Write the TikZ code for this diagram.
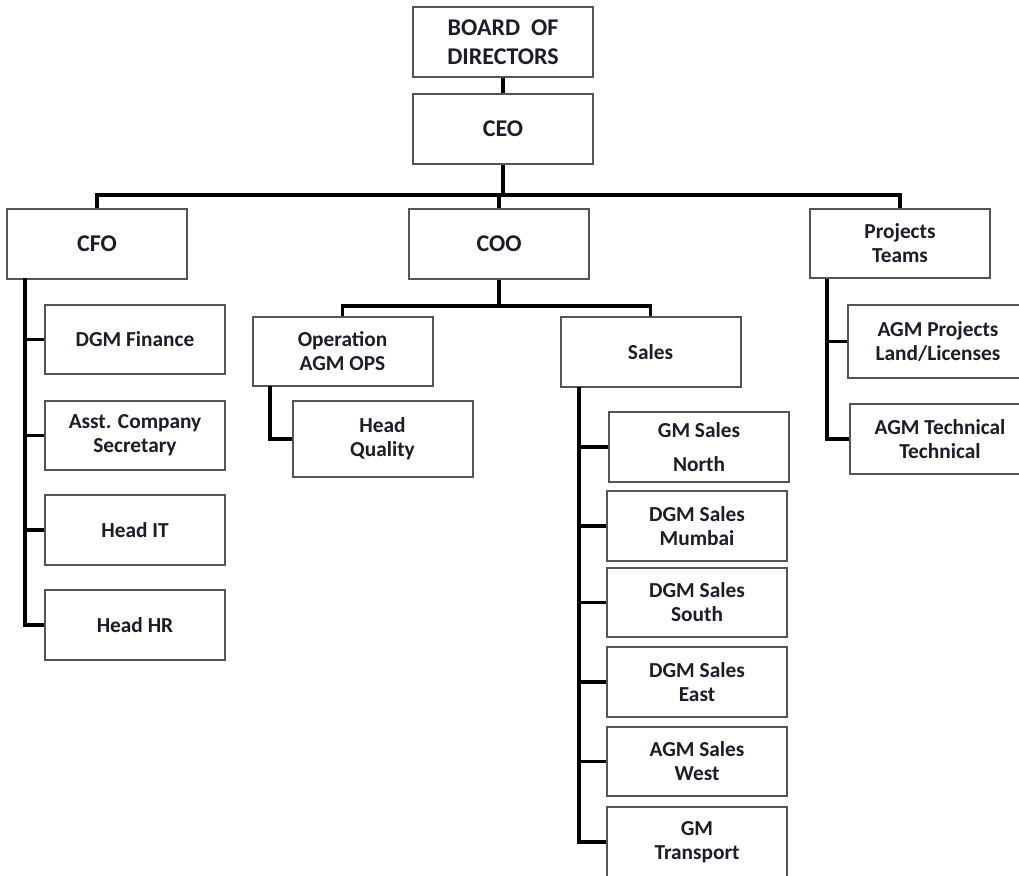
\documentclass[tikz,border=0pt]{standalone}
\usepackage{fontspec}
\setmainfont{Carlito}
\definecolor{boxline}{HTML}{555555}
\definecolor{ink}{HTML}{1C1C2A}
\newcommand{\topfont}{\fontsize{18}{21.75}\selectfont\bfseries}
\newcommand{\lowfont}{\fontsize{16}{18}\selectfont\bfseries}
\tikzset{
  post/.style={draw=boxline, line width=1.5pt, fill=white, minimum width=135pt,
    minimum height=52pt, align=center, font=\lowfont, text=ink, inner sep=1pt},
  chief/.style={post, font=\topfont},
  link/.style={line width=2.6pt, black}
}
\begin{document}
\begin{tikzpicture}[x=0.75pt, y=-0.75pt]
      \useasboundingbox (0,0) rectangle (1019,875);
      % top of the chart
      \node[chief] (board) at (503,42) {BOARD~ OF\\DIRECTORS};
      \node[chief] (ceo) at (503,129) {CEO};
      \node[chief] (cfo) at (97,244) {CFO};
      \node[chief] (coo) at (499,244) {COO};
      \node[post] (proj) at (900,243.5) {Projects\\Teams};
      % finance
      \node[post] (dgmfin) at (135,339.5) {DGM Finance};
      \node[post] (asst) at (135,435.5) {Asst. Company\\Secretary};
      \node[post] (headit) at (135,530) {Head IT};
      \node[post] (headhr) at (135,625) {Head HR};
      % operations
      \node[post] (ops) at (342.5,351.5) {Operation\\AGM OPS};
      \node[post, minimum height=57pt] (quality) at (382.5,439) {Head\\Quality};
      \node[post] (sales) at (650.5,352) {Sales};
      \node[post] (gmnorth) at (699,447) {GM Sales\\[7pt]North};
      \node[post] (mumbai) at (697,526) {DGM Sales\\Mumbai};
      \node[post] (south) at (697,602.5) {DGM Sales\\South};
      \node[post] (east) at (697,682) {DGM Sales\\East};
      \node[post] (west) at (697,761.5) {AGM Sales\\West};
      \node[post] (transport) at (697,842) {GM\\Transport};
      % projects
      \node[post, minimum height=55pt] (agmproj) at (938,341.5) {AGM Projects\\Land/Licenses};
      \node[post] (agmtech) at (940,439) {AGM Technical\\Technical};
      \coordinate (bar) at (503,195);
      \coordinate (coobar) at (499,306);
      \coordinate (cfotrunk) at (25,278);
      \coordinate (opstrunk) at (270,386);
      \coordinate (salestrunk) at (579,387);
      \coordinate (projtrunk) at (827,279);
      \begin{scope}[link]
        \draw (board) -- (ceo);
        \draw (ceo) -- (bar);
        \draw (cfo.north) |- (bar) -| (proj.north);
        \draw (coo.north) -- (coo.north |- bar);
        \draw (coo) -- (coobar);
        \draw (ops.north) |- (coobar) -| (sales.north);
        \draw (cfotrunk) |- (headhr.west);
        \draw (dgmfin.west) -- (dgmfin.west -| cfotrunk);
        \draw (asst.west) -- (asst.west -| cfotrunk);
        \draw (headit.west) -- (headit.west -| cfotrunk);
        \draw (opstrunk) |- (quality.west);
        \draw (salestrunk) |- (transport.west);
        \draw (gmnorth.west) -- (gmnorth.west -| salestrunk);
        \draw (mumbai.west) -- (mumbai.west -| salestrunk);
        \draw (south.west) -- (south.west -| salestrunk);
        \draw (east.west) -- (east.west -| salestrunk);
        \draw (west.west) -- (west.west -| salestrunk);
        \draw (projtrunk) |- (agmtech.west);
        \draw (agmproj.west) -- (agmproj.west -| projtrunk);
      \end{scope}
    \end{tikzpicture}
\end{document}
